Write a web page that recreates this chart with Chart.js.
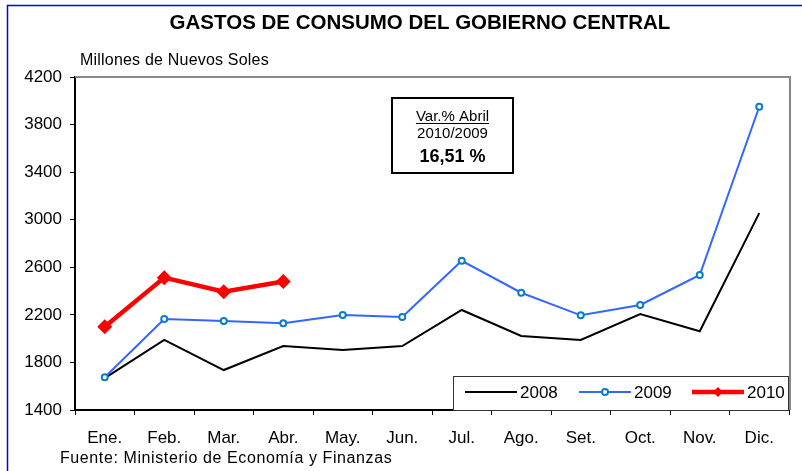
<!DOCTYPE html>
<html>
<head>
<meta charset="utf-8">
<script src="https://cdn.jsdelivr.net/npm/chart.js@4"></script>
<style>
  html, body { margin: 0; padding: 0; background: #fff; }
  canvas { display: block; }
</style>
</head>
<body>
<canvas id="c" width="802" height="471"></canvas>
<script>
const months = ["Ene.", "Feb.", "Mar.", "Abr.", "May.", "Jun.", "Jul.", "Ago.", "Set.", "Oct.", "Nov.", "Dic."];
const s2008 = [1668, 1990, 1736, 1938, 1905, 1938, 2241, 2022, 1989, 2207, 2062, 3055];
const s2009 = [1675, 2165, 2148, 2129, 2199, 2182, 2655, 2386, 2196, 2283, 2535, 3950];
const s2010 = [2100, 2513, 2395, 2480, null, null, null, null, null, null, null, null];
const seriesNames = ["2008", "2009", "2010"];
const titleText = "GASTOS DE CONSUMO DEL GOBIERNO CENTRAL";
const unitText = "Millones de Nuevos Soles";
const sourceText = "Fuente: Ministerio de Economía y Finanzas";
const boxLines = ["Var.% Abril", "2010/2009", "16,51 %"];

const FONT = "'Liberation Sans', Arial, sans-serif";

const decor = {
  id: "decor",
  beforeDraw(chart) {
    const ctx = chart.ctx;
    ctx.save();
    ctx.fillStyle = "#fff";
    ctx.fillRect(0, 0, chart.width, chart.height);
    ctx.restore();
  },
  afterDraw(chart) {
    const ctx = chart.ctx;
    const a = chart.chartArea;
    ctx.save();
    // outer blue border
    ctx.strokeStyle = "#0000EE";
    ctx.lineWidth = 1.5;
    ctx.beginPath();
    ctx.moveTo(7.5, chart.height);
    ctx.lineTo(7.5, 5.5);
    ctx.lineTo(chart.width, 5.5);
    ctx.stroke();
    // plot area top & right gray border
    ctx.strokeStyle = "#888";
    ctx.lineWidth = 2;
    ctx.beginPath();
    ctx.moveTo(a.left, a.top);
    ctx.lineTo(a.right + 1, a.top);
    ctx.lineTo(a.right + 1, a.bottom);
    ctx.stroke();
    // title
    ctx.fillStyle = "#000";
    ctx.textAlign = "center";
    ctx.textBaseline = "middle";
    ctx.font = "bold 20.5px " + FONT;
    ctx.fillText(titleText, 420, 23);
    // unit
    ctx.textAlign = "left";
    ctx.font = "16px " + FONT;
    ctx.letterSpacing = "0.2px";
    ctx.fillText(unitText, 80, 61);
    // source
    ctx.font = "16px " + FONT;
    ctx.letterSpacing = "0.6px";
    ctx.fillText(sourceText, 60, 459);
    ctx.letterSpacing = "0px";
    // annotation box
    ctx.fillStyle = "#fff";
    ctx.fillRect(392, 98, 121, 75);
    ctx.strokeStyle = "#000";
    ctx.lineWidth = 2;
    ctx.strokeRect(392, 98, 121, 75);
    ctx.fillStyle = "#000";
    ctx.textAlign = "center";
    ctx.textBaseline = "alphabetic";
    ctx.font = "15px " + FONT;
    ctx.fillText(boxLines[0], 452.5, 121);
    const w = ctx.measureText(boxLines[0]).width;
    ctx.lineWidth = 1;
    ctx.beginPath();
    ctx.moveTo(452.5 - w / 2, 123.5);
    ctx.lineTo(452.5 + w / 2, 123.5);
    ctx.stroke();
    ctx.fillText(boxLines[1], 452.5, 138);
    ctx.font = "bold 18px " + FONT;
    ctx.fillText(boxLines[2], 452.5, 162);
    // legend box
    ctx.textBaseline = "middle";
    ctx.fillStyle = "#fff";
    ctx.fillRect(453, 376, 336, 34);
    ctx.strokeStyle = "#333";
    ctx.lineWidth = 1;
    ctx.strokeRect(453.5, 376.5, 335, 34);
    const items = [
      { x: 465, ds: chart.data.datasets[0] },
      { x: 579, ds: chart.data.datasets[1] },
      { x: 692, ds: chart.data.datasets[2] }
    ];
    const ly = 392;
    items.forEach(it => {
      const ds = it.ds;
      ctx.strokeStyle = ds.borderColor;
      ctx.lineWidth = ds.borderWidth;
      ctx.beginPath();
      ctx.moveTo(it.x, ly);
      ctx.lineTo(it.x + 52, ly);
      ctx.stroke();
      const cx = it.x + 26;
      if (ds.pointRadius > 0) {
        if (ds.pointStyle === "rectRot") {
          ctx.fillStyle = ds.pointBackgroundColor;
          ctx.beginPath();
          ctx.moveTo(cx, ly - 5);
          ctx.lineTo(cx + 5, ly);
          ctx.lineTo(cx, ly + 5);
          ctx.lineTo(cx - 5, ly);
          ctx.closePath();
          ctx.fill();
        } else {
          ctx.fillStyle = "#fff";
          ctx.strokeStyle = ds.pointBorderColor;
          ctx.lineWidth = 2;
          ctx.beginPath();
          ctx.arc(cx, ly, 3, 0, Math.PI * 2);
          ctx.fill();
          ctx.stroke();
        }
      }
      ctx.fillStyle = "#000";
      ctx.textAlign = "left";
      ctx.font = "17px " + FONT;
      ctx.fillText(ds.label, it.x + 55, ly + 1);
    });
    ctx.restore();
  }
};

new Chart(document.getElementById("c"), {
  type: "line",
  data: {
    labels: months,
    datasets: [
      {
        label: seriesNames[0], data: s2008,
        borderColor: "#000", borderWidth: 2, pointRadius: 0, tension: 0, order: 3
      },
      {
        label: seriesNames[1], data: s2009,
        borderColor: "#3366FF", borderWidth: 2, tension: 0, order: 2,
        pointStyle: "circle", pointRadius: 3, pointBorderWidth: 2,
        pointBorderColor: "#0A7DC4", pointBackgroundColor: "#fff"
      },
      {
        label: seriesNames[2], data: s2010,
        borderColor: "#FF0000", borderWidth: 4.5, tension: 0, order: 1,
        pointStyle: "rectRot", pointRadius: 7.5, pointBorderWidth: 0,
        pointBorderColor: "#FF0000", pointBackgroundColor: "#FF0000"
      }
    ]
  },
  options: {
    responsive: false,
    animation: false,
    devicePixelRatio: 1,
    layout: { padding: { top: 77, right: 13, left: 0, bottom: 0 } },
    plugins: { legend: { display: false }, tooltip: { enabled: false }, title: { display: false } },
    scales: {
      x: {
        offset: true,
        afterFit(s) { s.height = 61; },
        grid: { offset: true, drawOnChartArea: false, color: "#000", tickLength: 5, tickColor: "#000" },
        border: { color: "#000", width: 2 },
        ticks: { color: "#000", padding: 13, font: { family: FONT, size: 17 }, maxRotation: 0, autoSkip: false }
      },
      y: {
        min: 1400, max: 4200,
        afterFit(s) { s.width = 75; },
        grid: { drawOnChartArea: false, color: "#000", tickLength: 5, tickColor: "#000" },
        border: { color: "#000", width: 2 },
        ticks: { stepSize: 400, color: "#000", padding: 8, font: { family: FONT, size: 17 },
                 callback: v => String(v) }
      }
    }
  },
  plugins: [decor]
});
</script>
</body>
</html>
